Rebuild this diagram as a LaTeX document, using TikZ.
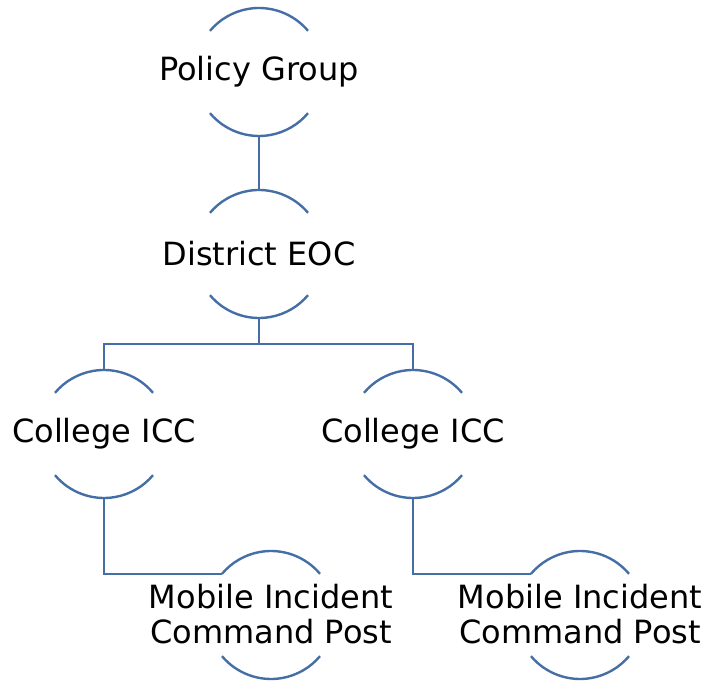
\documentclass[tikz,border=0pt]{standalone}
\usepackage{fontspec}
\setmainfont{DejaVu Sans}
\usetikzlibrary{calc}
\definecolor{arcblue}{RGB}{68,110,165}
\tikzset{
  unit/.style={circle, minimum size=128pt, inner sep=0pt, outer sep=0pt,
    font=\fontsize{32pt}{34pt}\selectfont, text=black},
  arcline/.style={draw=arcblue, line width=2.4pt},
  link/.style={draw=arcblue, line width=2.4pt}
}
\newcommand{\unitarcs}[1]{%
  \draw[arcline] (#1.40) arc[start angle=40, end angle=140, radius=64pt];
  \draw[arcline] (#1.220) arc[start angle=220, end angle=320, radius=64pt];
}
\newcommand{\mobiletext}{\makebox[0pt]{\raisebox{-4pt}[\height][\depth]{\begin{tabular}{@{}c@{}}Mobile Incident\\Command Post\end{tabular}}}}
\begin{document}
\begin{tikzpicture}[x=1pt,y=1pt]
\useasboundingbox (0,0) rectangle (706,680);
\node[unit] (pg) at (259,608) {\makebox[0pt]{Policy Group}};
\node[unit] (eoc) at (259,426) {\makebox[0pt]{District EOC}};
\node[unit] (c1) at (104,246) {\makebox[0pt]{College ICC}};
\node[unit] (c2) at (413,246) {\makebox[0pt]{College ICC}};
\node[unit] (m1) at (271,65) {\mobiletext};
\node[unit] (m2) at (580,65) {\mobiletext};
\unitarcs{pg}
\unitarcs{eoc}
\unitarcs{c1}
\unitarcs{c2}
\unitarcs{m1}
\unitarcs{m2}
\draw[link] (pg.south) -- (eoc.north);
\draw[link] (eoc.south) -- ++(0,-26pt) -| (c1.north);
\draw[link] (eoc.south) -- ++(0,-26pt) -| (c2.north);
\draw[link] (c1.south) |- (m1.140);
\draw[link] (c2.south) |- (m2.140);
\end{tikzpicture}
\end{document}
